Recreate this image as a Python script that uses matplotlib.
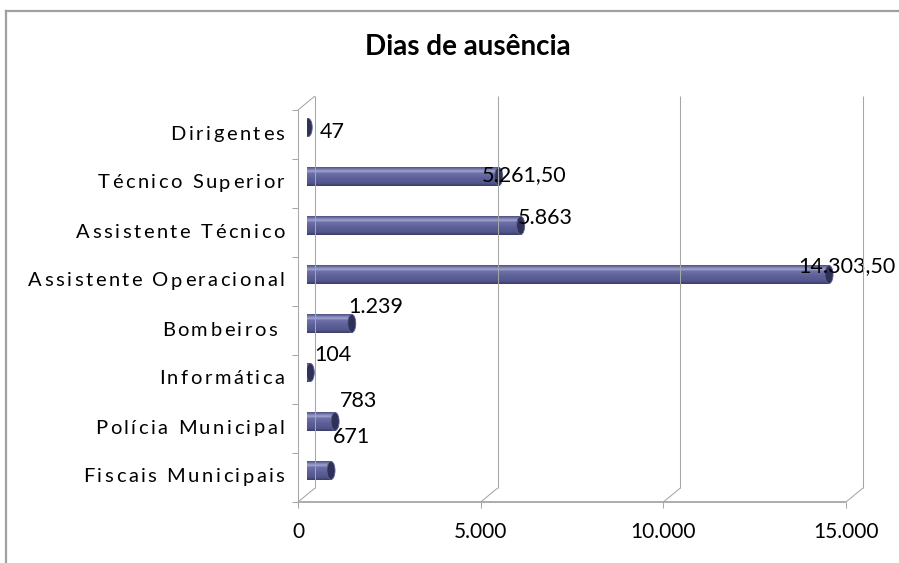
import matplotlib
matplotlib.use('Agg')
import matplotlib.pyplot as plt
import matplotlib.transforms as mtransforms
from matplotlib.patches import Ellipse
from matplotlib.lines import Line2D
from matplotlib.colors import LinearSegmentedColormap
from matplotlib.font_manager import FontProperties
import numpy as np

# ---------------- data ----------------
categories = ["Fiscais Municipais", "Polícia Municipal", "Informática", "Bombeiros ",
              "Assistente Operacional", "Assistente Técnico", "Técnico Superior", "Dirigentes"]
values = [671, 783, 104, 1239, 14303.5, 5863, 5261.5, 47]
xticks = [0, 5000, 10000, 15000]
xticklabels = ["0", "5.000", "10.000", "15.000"]
title = "Dias de ausência"

# label placement (pixels, relative to bar end) -- style only
label_dx = [3, 6, 5, -2, -30, -2, -16, 13]
label_dy = [27.5, 14.5, 11.5, 10.5, 2.5, 1.5, -4.5, -10.5]


def fmt_pt(v):
    if float(v).is_integer():
        return f"{int(v):,}".replace(",", ".")
    s = f"{v:,.2f}"
    return s.replace(",", "X").replace(".", ",").replace("X", ".")


W, H = 899, 563
DPI = 100
plt.rcParams['font.family'] = ['Lato', 'DejaVu Sans']
fig = plt.figure(figsize=(W / DPI, H / DPI), dpi=DPI)
fig.patch.set_facecolor('white')

# mid-depth plane of the 3D box
ax = fig.add_axes([306.5 / W, (H - 495) / H, 548 / W, 392 / H])
ax.set_xlim(0, 15000)
ax.set_ylim(0, len(categories))
ax.axis('off')

FRONT = (-8.5, -7.0)
BACK = (8.5, 7.0)
GRID = '#A6A6A6'


def disp(x, y, off):
    px, py = ax.transData.transform((x, y))
    return px + off[0], py + off[1]


def seg(p1, p2, color=GRID, lw=0.75, z=1):
    (x1, y1), (x2, y2) = p1, p2
    ln = Line2D([x1, x2], [y1, y2], transform=mtransforms.IdentityTransform(),
                color=color, lw=lw, zorder=z, solid_capstyle='butt')
    fig.add_artist(ln)


n = len(categories)
for xt in xticks:
    seg(disp(xt, 0, BACK), disp(xt, n, BACK))
    seg(disp(xt, 0, FRONT), disp(xt, 0, BACK))
    fx, fy = disp(xt, 0, FRONT)
    seg((fx, fy), (fx, fy - 6))
seg(disp(0, n, FRONT), disp(0, n, BACK))
seg(disp(0, 0, FRONT), disp(0, n, FRONT))
for i in range(n + 1):
    fx, fy = disp(0, i, FRONT)
    seg((fx, fy), (fx - 6, fy))
seg(disp(0, 0, FRONT), disp(15000, 0, FRONT), lw=1.3)

# ---------------- cylinders ----------------
cmap = LinearSegmentedColormap.from_list('cyl', [
    (0.00, '#4D507F'),
    (0.10, '#7478AD'),
    (0.22, '#A3A6D2'),
    (0.32, '#6E71A7'),
    (0.60, '#5D6098'),
    (0.85, '#53568A'),
    (1.00, '#3B3D68'),
])
grad = np.linspace(0, 1, 64).reshape(-1, 1)
bh = 0.37
px_x = 15000 / 548
cap_w = 8 * px_x
for i, v in enumerate(values):
    yc = i + 0.5
    ax.add_patch(Ellipse((0, yc), 5 * px_x, bh, facecolor='#6366A0',
                         edgecolor='none', zorder=2.9))
    ax.imshow(grad, extent=[0, v, yc - bh / 2, yc + bh / 2], aspect='auto',
              cmap=cmap, interpolation='bilinear', zorder=3, origin='upper')
    ax.add_patch(Ellipse((v, yc), cap_w, bh, facecolor='#2F3156',
                         edgecolor='#5D6098', lw=0.6, zorder=4))
ax.set_xlim(0, 15000)
ax.set_ylim(0, n)

# data labels
for i, v in enumerate(values):
    tr = mtransforms.offset_copy(ax.transData, fig=fig, x=label_dx[i] - 1,
                                 y=label_dy[i], units='dots')
    ax.text(v, i + 0.5, fmt_pt(v), transform=tr, ha='left', va='baseline',
            fontsize=15.5, color='black', zorder=6, clip_on=False)

# category labels with letter spacing (tracking), right aligned
renderer = fig.canvas.get_renderer()
cat_prop = FontProperties(family=['Lato', 'DejaVu Sans'], size=14.5)
TRACK = 2.5


def adv(s):
    w1, _, _ = renderer.get_text_width_height_descent(s + 'x', cat_prop, ismath=False)
    w2, _, _ = renderer.get_text_width_height_descent('x', cat_prop, ismath=False)
    return w1 - w2


for i, c in enumerate(categories):
    rx, by = disp(0, i + 0.5, FRONT)
    rx -= 13.5
    by -= 5
    total = adv(c) + TRACK * (len(c) - 1)
    x0 = rx - total
    for k, ch in enumerate(c):
        if ch == ' ':
            continue
        xk = x0 + adv(c[:k]) + TRACK * k
        fig.text(xk, by, ch, transform=mtransforms.IdentityTransform(),
                 fontproperties=cat_prop, ha='left', va='baseline', color='black')

# x tick labels
trx = mtransforms.offset_copy(ax.transData, fig=fig, x=FRONT[0],
                              y=FRONT[1] - 35.5, units='dots')
for xt, lab in zip(xticks, xticklabels):
    ax.text(xt, 0, lab, transform=trx, ha='center', va='baseline',
            fontsize=15, color='black', clip_on=False)

# title
fig.text(468 / W, 1 - 47 / H, title, ha='center', va='center',
         fontsize=20, fontweight='bold', color='black')

# outer chart border
bc = '#A0A0A0'
fig.add_artist(Line2D([6 / W, 6 / W], [0, 1 - 11 / H], transform=fig.transFigure,
                      color=bc, lw=1.6))
fig.add_artist(Line2D([6 / W, 1], [1 - 11 / H, 1 - 11 / H], transform=fig.transFigure,
                      color=bc, lw=1.6))

fig.savefig('out.png', dpi=DPI)
